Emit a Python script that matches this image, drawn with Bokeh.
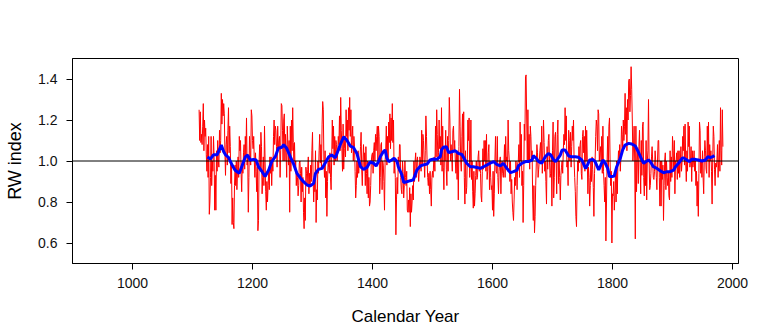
from bokeh.plotting import figure
from bokeh.models import Range1d, FixedTicker, PrintfTickFormatter, Span
from bokeh.embed import file_html
from bokeh.resources import INLINE

# ---- data ----
first_year = 1111
rw_index = [
    1.25, 1.10, 1.24, 1.09, 1.13, 1.08, 1.17, 1.28, 1.05, 1.20,
    1.12, 1.16, 1.03, 0.95, 1.08, 0.92, 1.12, 0.74, 0.80, 0.92,
    1.12, 0.88, 1.00, 0.95, 1.12, 1.02, 0.76, 0.93, 0.76, 1.05,
    0.95, 1.10, 1.00, 0.97, 1.15, 1.04, 1.10, 1.33, 1.18, 1.30,
    1.22, 1.28, 1.23, 1.05, 0.93, 1.08, 1.12, 0.98, 1.15, 1.26,
    1.04, 1.17, 1.07, 0.89, 1.00, 0.69, 0.82, 0.70, 0.67, 0.88,
    0.98, 0.88, 1.00, 0.86, 0.95, 1.02, 0.92, 1.12, 1.05, 1.10,
    0.94, 0.85, 1.00, 0.94, 1.04, 1.08, 0.96, 1.12, 1.02, 1.21,
    0.98, 1.03, 0.75, 0.92, 1.12, 1.05, 0.98, 1.25, 1.22, 1.10,
    1.06, 1.12, 1.00, 0.92, 1.04, 0.95, 0.85, 0.97, 0.66, 0.71,
    1.00, 1.08, 0.95, 1.14, 1.07, 0.84, 0.92, 1.02, 0.88, 1.17,
    1.00, 0.85, 0.76, 0.90, 0.80, 0.88, 0.95, 0.86, 1.02, 0.94,
    1.02, 0.88, 1.00, 0.95, 1.12, 1.20, 1.08, 1.17, 1.15, 1.07,
    0.97, 1.17, 1.05, 1.10, 1.12, 0.92, 1.05, 1.28, 1.27, 1.15,
    1.00, 1.20, 1.23, 1.00, 1.13, 1.04, 0.92, 1.17, 1.08, 0.98,
    1.10, 0.75, 1.17, 0.95, 1.20, 1.05, 1.26, 1.09, 1.00, 1.09,
    0.96, 1.00, 0.88, 0.94, 0.92, 0.83, 0.88, 0.99, 1.00, 0.94,
    0.80, 0.97, 0.85, 0.92, 0.75, 0.67, 0.82, 0.71, 0.97, 0.94,
    0.88, 0.96, 1.02, 0.84, 0.94, 0.88, 0.98, 0.90, 1.05, 1.14,
    0.92, 0.80, 0.91, 0.85, 1.05, 0.70, 0.86, 0.81, 1.00, 0.94,
    1.05, 1.13, 0.99, 1.08, 0.96, 1.18, 1.29, 1.25, 1.00, 0.92,
    1.05, 0.82, 0.95, 0.73, 0.90, 1.00, 0.97, 0.94, 1.04, 0.92,
    0.86, 1.02, 1.20, 1.06, 1.17, 0.98, 1.12, 1.00, 1.10, 1.08,
    1.00, 1.04, 1.12, 1.08, 1.22, 1.05, 1.31, 1.15, 1.06, 0.95,
    1.18, 0.96, 1.06, 1.12, 1.02, 1.25, 1.12, 1.20, 1.05, 1.26,
    1.15, 1.31, 1.12, 1.25, 1.04, 1.10, 1.17, 1.00, 1.12, 1.07,
    0.95, 0.82, 0.88, 1.00, 0.92, 1.05, 0.94, 1.00, 0.99, 1.07,
    1.14, 0.96, 0.88, 1.00, 1.08, 0.97, 1.04, 0.88, 1.07, 0.94,
    0.84, 1.00, 0.82, 0.92, 0.78, 0.80, 0.88, 1.00, 1.03, 1.04,
    0.94, 1.05, 1.09, 1.00, 1.13, 1.05, 1.12, 1.17, 1.00, 1.17,
    1.12, 0.84, 0.92, 1.08, 1.09, 0.86, 1.00, 0.98, 0.90, 0.76,
    1.00, 1.05, 1.17, 0.98, 1.12, 1.00, 1.19, 1.09, 1.23, 1.06,
    1.21, 1.10, 1.28, 1.09, 1.20, 0.94, 1.00, 0.92, 0.64, 0.81,
    0.92, 0.84, 1.02, 0.95, 1.08, 1.08, 0.92, 0.86, 0.84, 1.00,
    0.95, 0.82, 0.88, 1.00, 0.92, 0.88, 0.95, 0.76, 0.75, 0.81,
    0.75, 0.87, 0.68, 0.84, 0.75, 0.80, 0.88, 0.81, 1.00, 0.90,
    1.00, 1.04, 0.92, 1.00, 1.02, 0.95, 0.90, 0.96, 1.02, 1.00,
    0.95, 1.15, 0.98, 1.13, 1.10, 1.00, 0.92, 1.05, 1.22, 1.12,
    1.00, 0.92, 0.88, 0.94, 0.84, 0.95, 0.86, 0.78, 0.92, 0.95,
    0.92, 1.00, 1.02, 0.95, 1.17, 1.02, 1.25, 1.13, 1.00, 1.04,
    1.20, 1.06, 1.12, 0.98, 1.26, 0.95, 1.17, 0.97, 0.86, 1.07,
    1.00, 1.15, 0.96, 0.88, 1.12, 0.95, 1.10, 1.31, 1.20, 1.00,
    1.08, 1.02, 0.95, 1.15, 1.17, 1.05, 1.10, 1.00, 0.94, 1.04,
    0.91, 1.05, 0.81, 1.07, 1.35, 1.17, 1.00, 0.95, 1.12, 1.23,
    1.00, 1.24, 0.92, 0.79, 1.05, 0.84, 0.87, 1.00, 1.20, 1.10,
    1.21, 0.92, 1.00, 1.20, 0.91, 1.00, 0.85, 0.77, 0.95, 0.78,
    0.84, 0.93, 1.00, 0.91, 0.92, 1.02, 1.05, 0.95, 1.00, 0.94,
    0.83, 0.80, 0.95, 1.06, 0.96, 1.10, 1.00, 1.10, 0.95, 1.13,
    0.91, 0.95, 1.04, 1.08, 0.86, 1.00, 0.92, 0.86, 0.88, 0.76,
    0.95, 0.73, 0.84, 1.00, 1.12, 0.95, 0.94, 1.12, 0.92, 0.84,
    0.95, 1.00, 1.02, 0.84, 0.98, 1.00, 0.94, 0.92, 0.98, 1.08,
    0.92, 1.12, 1.00, 1.02, 0.95, 1.20, 1.05, 1.00, 0.90, 1.00,
    0.84, 0.91, 0.80, 0.75, 0.71, 0.81, 0.92, 0.88, 1.00, 0.95,
    0.86, 0.99, 1.00, 1.08, 0.92, 1.19, 1.00, 1.13, 0.88, 0.95,
    0.70, 0.88, 1.18, 1.10, 1.41, 1.42, 1.20, 1.00, 1.25, 1.00,
    1.13, 0.96, 1.17, 1.12, 1.00, 1.05, 0.81, 0.71, 0.88, 0.65,
    0.73, 0.88, 0.99, 1.08, 1.04, 0.92, 0.96, 1.00, 1.05, 1.09,
    1.00, 1.17, 0.94, 1.05, 1.20, 1.09, 0.95, 1.00, 0.90, 0.79,
    1.07, 0.96, 1.10, 1.13, 1.00, 0.92, 0.94, 1.02, 0.78, 1.05,
    1.19, 0.82, 0.92, 1.12, 1.14, 1.02, 0.84, 1.13, 1.20, 0.89,
    1.00, 0.92, 0.81, 0.93, 0.97, 1.00, 0.94, 1.05, 1.13, 1.08,
    1.26, 1.10, 1.22, 0.97, 1.00, 0.88, 1.15, 1.10, 1.00, 1.14,
    0.97, 1.07, 1.17, 1.10, 1.20, 1.00, 0.92, 0.85, 0.73, 0.68,
    0.88, 1.00, 0.95, 1.07, 0.99, 1.08, 1.10, 0.94, 0.91, 1.12,
    1.15, 1.04, 1.12, 0.95, 1.17, 1.00, 1.15, 1.00, 0.84, 0.97,
    0.92, 0.78, 0.88, 1.00, 0.90, 1.02, 0.96, 0.87, 0.73, 0.94,
    1.00, 1.12, 1.20, 1.17, 1.05, 1.25, 1.23, 1.00, 1.04, 1.07,
    1.00, 1.12, 0.94, 1.17, 0.95, 0.88, 0.80, 0.92, 0.61, 0.80,
    1.00, 1.12, 0.95, 1.17, 1.21, 1.00, 0.88, 0.95, 0.60, 0.84,
    0.83, 0.90, 0.76, 0.83, 0.95, 0.80, 1.00, 0.84, 0.98, 1.05,
    1.00, 1.08, 0.95, 1.02, 1.17, 1.13, 1.05, 1.20, 1.10, 1.17,
    1.33, 1.13, 1.26, 1.05, 1.30, 1.20, 1.39, 1.40, 1.24, 1.32,
    1.46, 1.35, 1.20, 1.00, 1.07, 1.17, 1.00, 0.62, 1.17, 0.85,
    1.00, 1.04, 0.89, 1.07, 1.15, 1.00, 0.84, 1.10, 0.93, 1.17,
    1.19, 0.92, 0.83, 1.00, 0.88, 1.10, 0.81, 1.00, 1.05, 1.30,
    1.00, 0.86, 0.88, 0.94, 1.02, 1.07, 1.00, 0.92, 0.91, 0.95,
    1.05, 1.00, 0.92, 0.86, 1.00, 1.10, 1.10, 0.92, 0.78, 1.00,
    0.78, 1.00, 0.91, 0.98, 0.71, 0.88, 1.00, 1.04, 0.86, 1.00,
    0.92, 0.88, 0.95, 0.83, 0.81, 1.05, 0.90, 1.02, 0.92, 1.12,
    1.05, 0.96, 1.10, 0.84, 1.00, 1.00, 1.04, 0.91, 1.05, 0.94,
    1.05, 0.92, 1.00, 1.07, 0.95, 1.00, 1.12, 1.05, 1.17, 0.98,
    1.18, 1.00, 0.90, 1.05, 0.95, 1.19, 1.07, 1.17, 0.97, 1.00,
    1.07, 0.90, 1.05, 0.97, 1.00, 1.05, 0.95, 1.00, 0.88, 0.95,
    0.78, 0.90, 0.73, 0.94, 1.19, 1.15, 0.94, 1.00, 0.92, 1.05,
    0.92, 0.84, 1.02, 1.10, 1.05, 0.96, 0.94, 1.17, 1.00, 1.19,
    0.92, 1.08, 1.00, 1.05, 0.95, 0.79, 1.00, 1.17, 1.12, 0.96,
    0.88, 0.99, 0.97, 1.00, 1.08, 0.92, 1.00, 1.10, 0.95, 1.26,
    1.05, 0.98, 1.25, 1.07,
]

smooth_years = [
    1125, 1130, 1135, 1141, 1148, 1152, 1155, 1160, 1166, 1171,
    1178, 1182, 1188, 1192, 1196, 1202, 1206, 1210, 1216, 1221,
    1227, 1232, 1238, 1243, 1249, 1252, 1257, 1263, 1268, 1274,
    1280, 1285, 1291, 1296, 1302, 1305, 1310, 1316, 1321, 1327,
    1332, 1338, 1343, 1346, 1352, 1357, 1363, 1368, 1374, 1380,
    1385, 1391, 1396, 1402, 1406, 1410, 1413, 1418, 1421, 1424,
    1427, 1432, 1436, 1441, 1443, 1449, 1452, 1457, 1463, 1468,
    1474, 1480, 1485, 1491, 1496, 1502, 1507, 1513, 1515, 1518,
    1523, 1527, 1532, 1538, 1543, 1549, 1552, 1557, 1563, 1568,
    1574, 1580, 1585, 1591, 1596, 1602, 1607, 1613, 1618, 1624,
    1630, 1635, 1641, 1643, 1649, 1655, 1660, 1666, 1668, 1673,
    1677, 1682, 1688, 1693, 1697, 1702, 1705, 1708, 1713, 1716,
    1721, 1727, 1732, 1738, 1743, 1749, 1755, 1757, 1762, 1767,
    1771, 1777, 1780, 1784, 1788, 1792, 1795, 1799, 1803, 1807,
    1813, 1817, 1821, 1827, 1832, 1838, 1843, 1849, 1852, 1856,
    1860, 1863, 1868, 1874, 1880, 1885, 1891, 1896, 1902, 1905,
    1910, 1916, 1918, 1924, 1928, 1932, 1938, 1943, 1949, 1955,
    1959, 1963, 1967, 1970,
]
smooth_values = [
    1.020, 1.010, 1.030, 1.030, 1.078, 1.045, 1.030, 1.018, 0.980, 0.955,
    0.940, 0.972, 1.020, 1.029, 1.005, 1.008, 1.005, 0.972, 0.948, 0.924,
    0.956, 0.997, 1.021, 1.062, 1.067, 1.080, 1.062, 1.021, 0.989, 0.940,
    0.916, 0.899, 0.883, 0.878, 0.891, 0.940, 0.959, 0.964, 0.989, 1.021,
    1.029, 1.016, 1.054, 1.078, 1.118, 1.102, 1.073, 1.067, 1.037, 0.972,
    0.959, 0.969, 0.995, 0.989, 0.976, 0.997, 1.021, 1.045, 1.054, 1.013,
    0.997, 1.005, 1.013, 0.997, 0.972, 0.932, 0.895, 0.899, 0.904, 0.908,
    0.956, 0.976, 0.981, 0.985, 1.005, 1.010, 1.008, 1.021, 1.054, 1.067,
    1.070, 1.041, 1.045, 1.050, 1.037, 1.032, 1.016, 0.989, 0.972, 0.972,
    0.968, 0.964, 0.972, 0.981, 0.989, 0.997, 0.984, 0.976, 0.989, 0.964,
    0.943, 0.948, 0.956, 0.976, 0.989, 0.997, 0.997, 1.005, 1.026, 1.013,
    0.997, 0.989, 1.021, 1.037, 1.030, 1.005, 0.997, 1.008, 1.029, 1.054,
    1.054, 1.024, 1.021, 1.021, 1.018, 1.005, 0.964, 0.972, 1.005, 1.008,
    0.997, 0.956, 0.976, 1.005, 0.989, 0.964, 0.924, 0.924, 0.927, 0.972,
    1.013, 1.054, 1.078, 1.086, 1.083, 1.073, 1.045, 1.005, 0.989, 0.997,
    1.005, 0.997, 0.972, 0.964, 0.951, 0.943, 0.948, 0.948, 0.956, 0.972,
    0.989, 1.013, 1.016, 1.005, 0.997, 1.008, 1.008, 1.005, 1.000, 1.005,
    1.021, 1.016, 1.021, 1.026,
]

x_ticks = [1000, 1200, 1400, 1600, 1800, 2000]
y_ticks = [0.6, 0.8, 1.0, 1.2, 1.4]
reference_level = 1.0

years = list(range(first_year, first_year + len(rw_index)))

p = figure(
    width=768, height=331,
    output_backend="svg", toolbar_location=None,
    x_range=Range1d(900, 2010), y_range=Range1d(0.5, 1.5),
    min_border_left=72, min_border_right=30,
    min_border_top=58, min_border_bottom=68,
)
p.background_fill_color = "white"
p.border_fill_color = "white"
p.outline_line_color = "black"
p.outline_line_width = 1
p.outline_line_alpha = 1.0
p.xgrid.visible = False
p.ygrid.visible = False

p.line(years, rw_index, line_color="#ff0000", line_width=1)
p.add_layout(Span(location=reference_level, dimension="width",
                  line_color="black", line_width=1))
blue = p.line(smooth_years, smooth_values, line_color="#0000ff", line_width=3)
blue.level = "overlay"

p.xaxis.ticker = FixedTicker(ticks=x_ticks)
p.yaxis.ticker = FixedTicker(ticks=y_ticks)
p.yaxis.formatter = PrintfTickFormatter(format="%.1f")
p.xaxis.axis_label = "Calendar Year"
p.yaxis.axis_label = "RW index"

for ax in (p.xaxis, p.yaxis):
    ax.major_tick_out = 6
    ax.major_tick_in = 0
    ax.minor_tick_out = 0
    ax.minor_tick_in = 0
    ax.axis_line_color = "black"
    ax.major_tick_line_color = "black"
    ax.major_label_text_font = "Liberation Sans"
    ax.major_label_text_font_size = "14px"
    ax.major_label_text_color = "#111111"
    ax.axis_label_text_font = "Liberation Sans"
    ax.axis_label_text_font_style = "normal"
    ax.axis_label_text_color = "black"

p.xaxis.axis_label_text_font_size = "17px"
p.yaxis.axis_label_text_font_size = "18px"
p.xaxis.major_label_standoff = 8
p.yaxis.major_label_standoff = 9
p.xaxis.axis_label_standoff = 16
p.yaxis.axis_label_standoff = 10

open("out.html", "w").write(file_html(p, INLINE))
